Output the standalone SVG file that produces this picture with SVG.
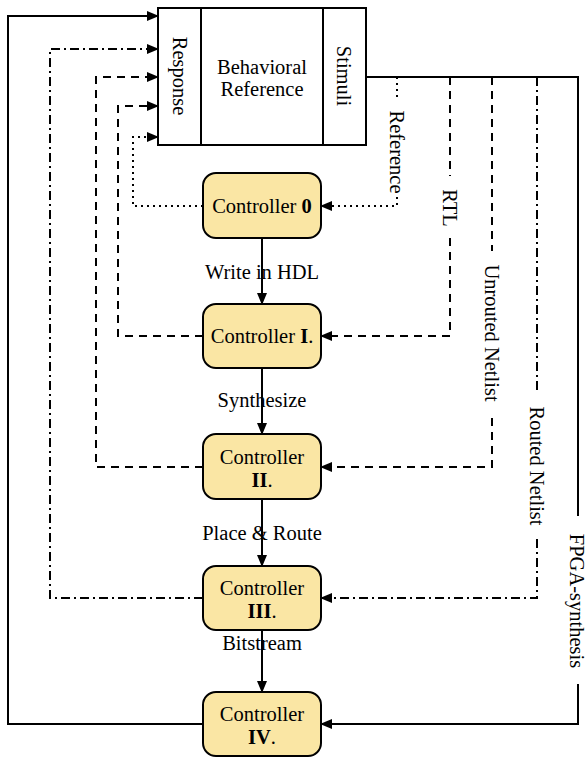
<svg xmlns="http://www.w3.org/2000/svg" width="587" height="759" viewBox="0 0 587 759">
<style>
text{font-family:"Liberation Serif","Times New Roman",serif;font-size:20.5px;fill:#000}
.c{text-anchor:middle}
.b{font-weight:bold}
.box{fill:#FAE6A4;stroke:#000;stroke-width:2}
.ln{fill:none;stroke:#000;stroke-width:2}
.dot{stroke-dasharray:2 4}
.dash{stroke-dasharray:8 6}
.dd{stroke-dasharray:9 4 2 4}
</style>
<defs>
<marker id="ah" markerUnits="userSpaceOnUse" markerWidth="12" markerHeight="10" refX="11" refY="5" orient="auto">
<path d="M0,0 L12,5 L0,10 z" fill="#000"/>
</marker>
</defs>

<g id="behavioral">
<rect x="158" y="8" width="208" height="137" fill="#fff" stroke="#000" stroke-width="2"/>
<line x1="201" y1="8" x2="201" y2="145" stroke="#000" stroke-width="2"/>
<line x1="323" y1="8" x2="323" y2="145" stroke="#000" stroke-width="2"/>
<text class="c" x="262" y="74">Behavioral</text>
<text class="c" x="262" y="96">Reference</text>
<text class="c" transform="translate(173,76) rotate(90)">Response</text>
<text class="c" transform="translate(337,76) rotate(90)">Stimuli</text>
</g>

<g id="ctrl0">
<rect class="box" x="203" y="173" width="118" height="65" rx="13"/>
<text class="c" x="262" y="213">Controller <tspan class="b">0</tspan></text>
</g>
<g id="ctrl1">
<rect class="box" x="203" y="304" width="118" height="64" rx="13"/>
<text class="c" x="262" y="343">Controller <tspan class="b">I</tspan>.</text>
</g>
<g id="ctrl2">
<rect class="box" x="203" y="434" width="118" height="65" rx="13"/>
<text class="c" x="262" y="464">Controller</text>
<text class="c" x="262" y="487"><tspan class="b">II</tspan>.</text>
</g>
<g id="ctrl3">
<rect class="box" x="203" y="566" width="118" height="64" rx="13"/>
<text class="c" x="262" y="595">Controller</text>
<text class="c" x="262" y="618"><tspan class="b">III</tspan>.</text>
</g>
<g id="ctrl4">
<rect class="box" x="203" y="692" width="118" height="64" rx="13"/>
<text class="c" x="262" y="721">Controller</text>
<text class="c" x="262" y="744"><tspan class="b">IV</tspan>.</text>
</g>

<g id="connectors">
<line class="ln" x1="262" y1="238" x2="262" y2="304" marker-end="url(#ah)"/>
<line class="ln" x1="262" y1="368" x2="262" y2="434" marker-end="url(#ah)"/>
<line class="ln" x1="262" y1="499" x2="262" y2="566" marker-end="url(#ah)"/>
<line class="ln" x1="262" y1="630" x2="262" y2="692" marker-end="url(#ah)"/>
<text class="c" x="262" y="279">Write in HDL</text>
<text class="c" x="262" y="407">Synthesize</text>
<text class="c" x="262" y="540">Place &amp; Route</text>
<text class="c" x="262" y="650">Bitstream</text>

<polyline class="ln" points="203,724 8,724 8,16 158,16" marker-end="url(#ah)"/>
<polyline class="ln dd" points="203,598 50,598 50,49 158,49" marker-end="url(#ah)"/>
<polyline class="ln dash" points="203,467 96,467 96,77 158,77" marker-end="url(#ah)"/>
<polyline class="ln dash" points="203,336 118,336 118,106 158,106" marker-end="url(#ah)"/>
<polyline class="ln dot" points="203,206 133,206 133,137 158,137" marker-end="url(#ah)"/>

<line class="ln" x1="366" y1="77" x2="578" y2="77"/>

<line class="ln dot" x1="397" y1="77" x2="397" y2="101"/>
<polyline class="ln dot" points="397,197 397,206 321,206" marker-end="url(#ah)"/>
<text class="c" transform="translate(390,152) rotate(90)">Reference</text>

<line class="ln dash" x1="450" y1="77" x2="450" y2="176"/>
<polyline class="ln dash" points="450,238 450,336 321,336" marker-end="url(#ah)"/>
<text class="c" transform="translate(443,208) rotate(90)">RTL</text>

<line class="ln dash" x1="492" y1="77" x2="492" y2="251"/>
<polyline class="ln dash" points="492,418 492,467 321,467" marker-end="url(#ah)"/>
<text class="c" transform="translate(485,333) rotate(90)">Unrouted Netlist</text>

<line class="ln dd" x1="537" y1="77" x2="537" y2="394"/>
<polyline class="ln dd" points="537,539 537,598 321,598" marker-end="url(#ah)"/>
<text class="c" transform="translate(530,466) rotate(90)">Routed Netlist</text>

<line class="ln" x1="578" y1="76" x2="578" y2="516"/>
<polyline class="ln" points="578,684 578,724 321,724" marker-end="url(#ah)"/>
<text class="c" transform="translate(570,601) rotate(90)">FPGA-synthesis</text>
</g>
</svg>
